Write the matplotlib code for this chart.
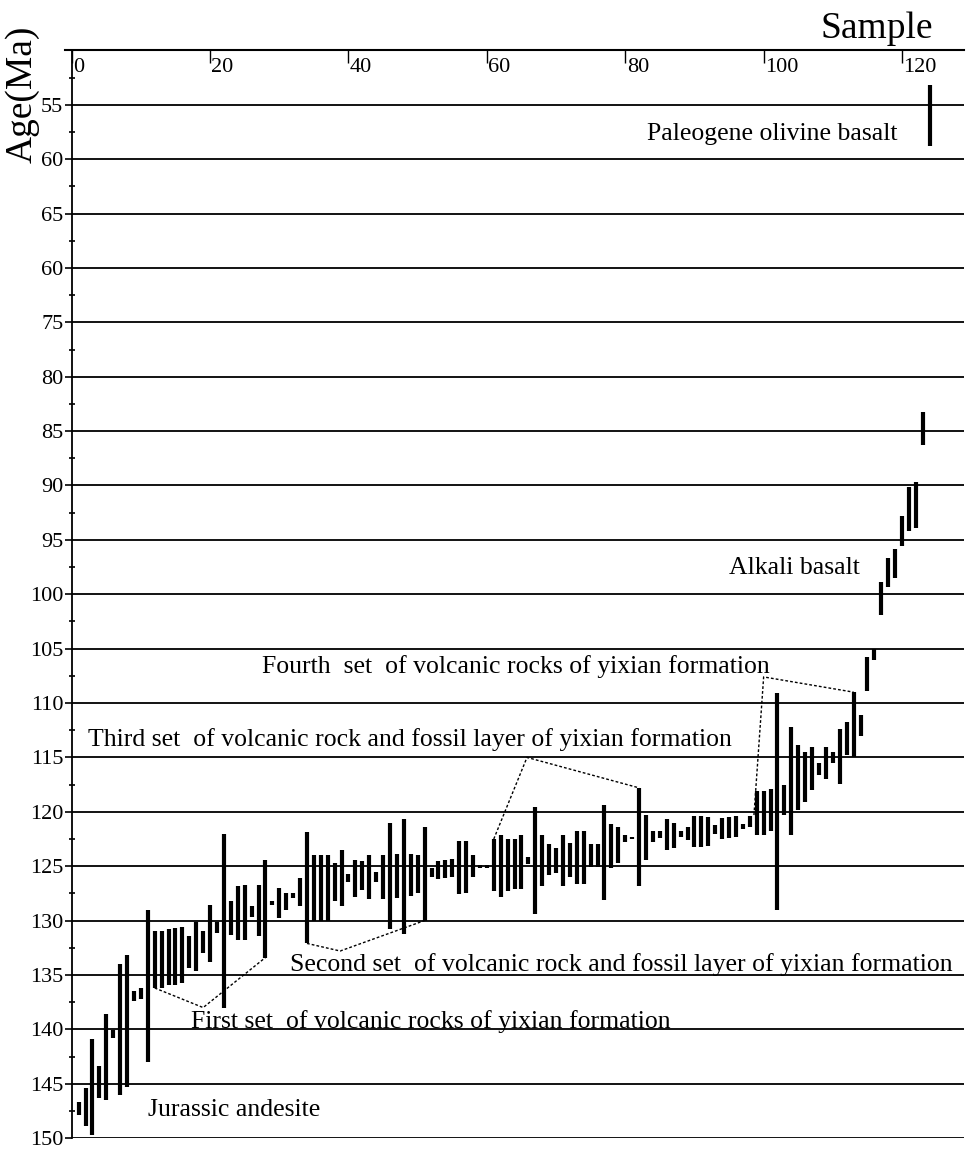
import numpy as np
import matplotlib
matplotlib.use("Agg")
import matplotlib.pyplot as plt

plt.rcParams['font.family'] = ['Liberation Serif', 'DejaVu Serif']

# age ranges (Ma) for each sample
sample = list(range(1, 125))
age_lo = [146.7, 145.4, 140.9, 143.4, 138.6, 140.1, 134.0, 133.2, 136.5, 136.2,
          129.0, 131.0, 131.0, 130.8, 130.7, 130.6, 131.4, 130.1, 131.0, 128.6,
          130.1, 122.0, 128.2, 126.8, 126.7, 128.7, 126.7, 124.4, 128.2, 127.0,
          127.5, 127.5, 126.1, 121.9, 124.0, 124.0, 124.0, 124.7, 123.5, 125.7,
          124.4, 124.5, 124.0, 125.5, 124.0, 121.0, 123.9, 120.7, 123.9, 124.0,
          121.4, 125.2, 124.5, 124.4, 124.3, 122.7, 122.7, 124.0, 124.9, 124.9,
          122.5, 122.1, 122.5, 122.5, 122.1, 124.2, 119.6, 122.1, 123.0, 123.3,
          122.1, 122.9, 121.8, 121.8, 123.0, 123.0, 119.4, 121.1, 121.4, 122.1,
          122.3, 117.8, 120.3, 121.8, 121.8, 120.7, 121.0, 121.8, 121.4, 120.4,
          120.4, 120.5, 121.2, 120.6, 120.5, 120.4, 121.1, 120.4, 118.1, 118.1,
          117.9, 109.1, 117.5, 112.2, 113.9, 114.5, 114.0, 115.5, 114.0, 114.5,
          112.4, 111.7, 109.0, 111.1, 105.8, 105.0, 98.9, 96.7, 95.8, 92.8,
          90.1, 89.7, 83.2, 53.2]
age_hi = [147.9, 148.9, 149.7, 146.3, 146.5, 140.8, 146.0, 145.3, 137.4, 137.2,
          143.0, 136.2, 136.2, 135.9, 135.9, 135.7, 134.4, 134.6, 133.0, 133.8,
          131.1, 138.0, 131.3, 131.8, 131.8, 129.7, 131.4, 133.4, 128.6, 129.8,
          129.0, 127.9, 128.7, 132.1, 130.0, 130.0, 130.0, 128.2, 128.7, 126.5,
          127.8, 127.2, 128.0, 126.5, 128.0, 130.8, 127.9, 131.2, 127.7, 127.5,
          130.0, 126.0, 126.2, 126.1, 126.0, 127.6, 127.5, 126.0, 125.2, 125.2,
          127.3, 127.8, 127.3, 127.1, 127.1, 124.8, 129.4, 126.8, 125.8, 125.6,
          126.8, 126.0, 126.6, 126.6, 125.1, 125.1, 128.1, 125.2, 124.7, 122.8,
          122.5, 126.8, 124.4, 122.8, 122.4, 123.5, 123.3, 122.3, 122.6, 123.2,
          123.2, 123.1, 122.0, 122.5, 122.4, 122.3, 121.6, 121.4, 122.1, 122.1,
          121.8, 129.0, 120.3, 122.1, 119.8, 119.1, 118.0, 116.6, 117.0, 115.5,
          117.4, 114.8, 115.0, 113.0, 108.9, 106.0, 101.9, 99.3, 98.5, 95.6,
          94.2, 93.9, 86.3, 58.8]

y_ticks = list(range(55, 151, 5))
y_labels = ['55', '60', '65', '60', '75', '80', '85', '90', '95', '100', '105',
            '110', '115', '120', '125', '130', '135', '140', '145', '150']
x_ticks = [0, 20, 40, 60, 80, 100, 120]

# dashed outlines grouping the Yixian sets
set1_x = [12, 19, 28]
set1_y = [136.2, 138.0, 133.4]
set2_x = [34, 38.8, 51]
set2_y = [132.1, 132.8, 130.0]
set3_x = [61, 65.8, 82]
set3_y = [122.5, 115.0, 117.8]
set4_x = [98.6, 100, 113]
set4_y = [120.3, 107.6, 109.0]

fig = plt.figure(figsize=(9.68, 11.49), dpi=100)
ax = fig.add_axes([0.0669, 0.0095, 0.9293, 0.9466])
ax.set_xlim(-1, 129)
ax.set_ylim(150, 50)

ax.hlines(y_ticks, 0, 129, color='black', lw=1.3, zorder=1)
ax.vlines(sample, age_lo, age_hi, color='black', lw=3.0, zorder=3)

for xs, ys in [(set1_x, set1_y), (set2_x, set2_y), (set3_x, set3_y), (set4_x, set4_y)]:
    ax.plot(xs, ys, color='black', ls=(0, (2, 1.5)), lw=1.0, zorder=2)

for sp in ['right', 'bottom']:
    ax.spines[sp].set_visible(False)
ax.spines['left'].set_position(('data', 0))
ax.spines['top'].set_linewidth(1.5)
ax.spines['left'].set_linewidth(1.3)

ax.set_yticks(y_ticks)
ax.set_yticklabels(y_labels, fontsize=16)
ax.set_yticks(np.arange(52.5, 150, 5), minor=True)
ax.tick_params(axis='y', which='major', direction='out', length=5, width=1.2, pad=1)
ax.tick_params(axis='y', which='minor', direction='inout', length=5, width=1.2)

ax.xaxis.tick_top()
ax.set_xticks(x_ticks)
ax.tick_params(axis='x', direction='in', length=9, width=1.0, labeltop=False)
for t in x_ticks:
    ax.text(t + 0.2, 51.6, str(t), fontsize=16, ha='left', va='center')

notes = [
    (83.2, 57.7, 'Paleogene olivine basalt'),
    (95.0, 97.6, 'Alkali basalt'),
    (27.5, 106.6, 'Fourth  set  of volcanic rocks of yixian formation'),
    (2.3, 113.4, 'Third set  of volcanic rock and fossil layer of yixian formation'),
    (31.5, 134.0, 'Second set  of volcanic rock and fossil layer of yixian formation'),
    (17.3, 139.3, 'First set  of volcanic rocks of yixian formation'),
    (11.0, 147.4, 'Jurassic andesite'),
]
for x, y, s in notes:
    ax.text(x, y, s, fontsize=18.5, ha='left', va='center', zorder=4)

fig.text(0.023, 0.918, 'Age(Ma)', rotation=90, fontsize=27, ha='center', va='center')
fig.text(0.964, 0.967, 'Sample', fontsize=27, ha='right', va='baseline')

fig.savefig('out.png', dpi=100)
